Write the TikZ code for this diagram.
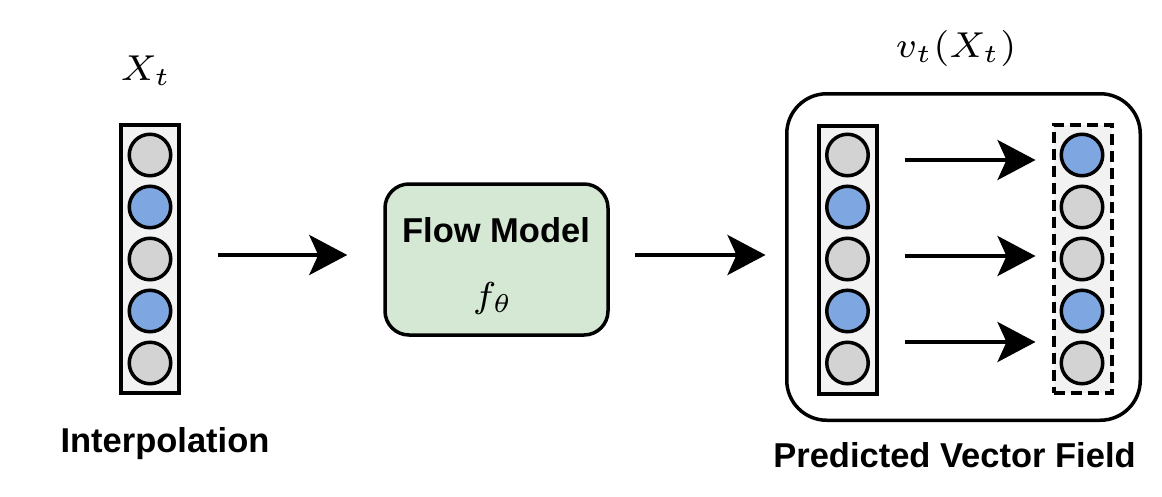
\documentclass[tikz,border=0pt]{standalone}
\usepackage{graphicx}
\usepackage{fontspec}
\setmainfont{Liberation Sans}
\usetikzlibrary{arrows.meta}
\definecolor{cgray}{HTML}{D3D3D3}
\definecolor{cblue}{HTML}{7EA6E0}
\definecolor{colfill}{HTML}{F2F2F2}
\definecolor{cgreen}{HTML}{D5E8D4}
\newcommand{\bigmath}[1]{\scalebox{5.15}{$\scriptstyle #1$}}
\begin{document}
\begin{tikzpicture}[x=1pt,y=-1pt,
  cell/.style={circle, draw=black, line width=3.5pt, minimum size=41.5pt, inner sep=0pt},
  gcell/.style={cell, fill=cgray},
  bcell/.style={cell, fill=cblue},
  column/.style={rectangle, draw=black, line width=4pt, fill=colfill, minimum width=58pt, minimum height=268pt, inner sep=0pt},
  dcolumn/.style={column, line width=4pt, dash pattern=on 11pt off 6pt},
  flowbox/.style={rectangle, draw=black, line width=3.5pt, fill=cgreen, rounded corners=24pt, minimum width=223pt, minimum height=151pt, inner sep=0pt},
  outerbox/.style={rectangle, draw=black, line width=3.5pt, rounded corners=40pt, minimum width=353.5pt, minimum height=326.5pt, inner sep=0pt},
  lbl/.style={inner sep=0pt, anchor=base, font=\fontsize{34.5}{40}\selectfont\bfseries},
  mlbl/.style={inner sep=0pt, anchor=base},
  arr/.style={line width=4pt, -{Stealth[length=38pt,width=40pt,inset=9pt]}}
]
\useasboundingbox (0,0) rectangle (1162,496);

% outer box of predicted field
\node[outerbox] (outer) at (963.5,257) {};

% left column
\node[column] (col1) at (150,259) {};
\node[gcell] (a1) at (150,155) {};
\node[bcell] (a2) at (150,207) {};
\node[gcell] (a3) at (150,259) {};
\node[bcell] (a4) at (150,311) {};
\node[gcell] (a5) at (150,363) {};

% flow model
\node[flowbox] (flow) at (496.5,259.5) {};
\node[lbl] (flowtxt) at (496,242) {Flow Model};
\node[mlbl] (ftheta) at (493,307) {\bigmath{f_\theta}};

% right inner columns
\node[column] (colB) at (847.5,259.5) {};
\node[gcell] (b1) at (847.5,155) {};
\node[bcell] (b2) at (847.5,207) {};
\node[gcell] (b3) at (847.5,259) {};
\node[bcell] (b4) at (847.5,311) {};
\node[gcell] (b5) at (847.5,363) {};

\node[dcolumn] (colC) at (1082.5,258.7) {};
\node[bcell] (c1) at (1082,155) {};
\node[gcell] (c2) at (1082,207) {};
\node[gcell] (c3) at (1082,259) {};
\node[bcell] (c4) at (1082,311) {};
\node[gcell] (c5) at (1082,363) {};

% labels
\node[mlbl] (xt) at (146,80) {\bigmath{X_t}};
\node[mlbl] (vt) at (956,57) {\bigmath{v_t(X_t)}};
\node[lbl] (interp) at (165,452) {Interpolation};
\node[lbl] (pvf) at (954.5,467) {Predicted Vector Field};

% arrows
\coordinate (ym) at (0,255);
\coordinate (yr1) at (0,160);
\coordinate (yr2) at (0,256);
\coordinate (yr3) at (0,342);
\draw[arr, shorten <=37pt, shorten >=36pt] (col1.east |- ym) -- (flow.west |- ym);
\draw[arr, shorten <=25pt, shorten >=51pt] (flow.east |- ym) -- (colB.west |- ym);
\draw[arr, shorten <=26pt, shorten >=16pt] (colB.east |- yr1) -- (colC.west |- yr1);
\draw[arr, shorten <=26pt, shorten >=16pt] (colB.east |- yr2) -- (colC.west |- yr2);
\draw[arr, shorten <=26pt, shorten >=16pt] (colB.east |- yr3) -- (colC.west |- yr3);
\end{tikzpicture}
\end{document}
